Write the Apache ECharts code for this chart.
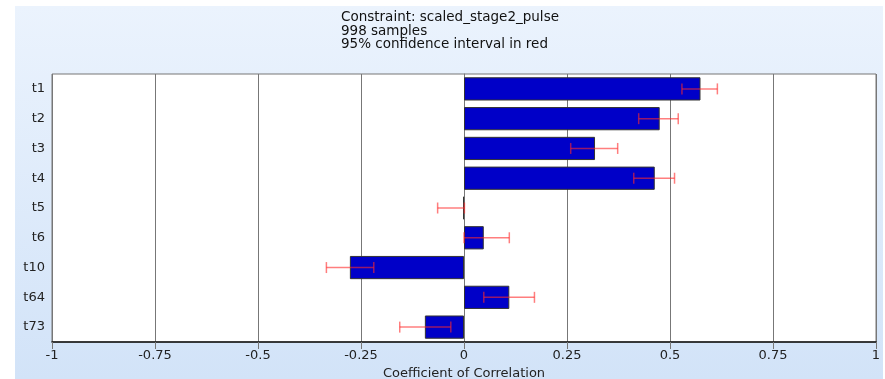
<!DOCTYPE html>
<html>
<head>
<meta charset="utf-8">
<script src="https://cdn.jsdelivr.net/npm/echarts@6/dist/echarts.min.js"></script>
<style>
html,body{margin:0;padding:0;background:#fff;}
#chart{width:885px;height:379px;}
</style>
</head>
<body>
<div id="chart"></div>
<script>
var categories = ['t1', 't2', 't3', 't4', 't5', 't6', 't10', 't64', 't73'];
var coefficients = [0.574, 0.475, 0.318, 0.463, -0.002, 0.048, -0.277, 0.110, -0.095];
var ciLow = [0.529, 0.424, 0.259, 0.412, -0.064, 0.000, -0.334, 0.048, -0.156];
var ciHigh = [0.615, 0.520, 0.373, 0.511, 0.001, 0.110, -0.219, 0.171, -0.032];
var titleLines = ['Constraint: scaled_stage2_pulse', '998 samples', '95% confidence interval in red'];
var xAxisName = 'Coefficient of Correlation';

var errData = categories.map(function (c, i) { return [i, ciLow[i], ciHigh[i]]; });

var chart = echarts.init(document.getElementById('chart'), null, { renderer: 'canvas' });
var font = 'DejaVu Sans';
chart.setOption({
  backgroundColor: '#ffffff',
  animation: false,
  textStyle: { fontFamily: font },
  graphic: [{
    type: 'rect', z: -10, silent: true,
    shape: { x: 15, y: 6, width: 868, height: 373 },
    style: {
      fill: new echarts.graphic.LinearGradient(0, 0, 0, 1, [
        { offset: 0, color: '#ebf3fd' },
        { offset: 1, color: '#d2e3f8' }
      ])
    }
  }],
  title: {
    text: titleLines.join('\n'),
    left: 341, top: 11, padding: 0,
    textStyle: { fontFamily: font, fontSize: 13.5, fontWeight: 'normal', color: '#111', lineHeight: 13.5 }
  },
  grid: {
    left: 52, right: 9, top: 74, bottom: 37,
    containLabel: false, outerBoundsMode: 'none',
    show: true, backgroundColor: '#ffffff', borderColor: '#777', borderWidth: 1
  },
  xAxis: {
    type: 'value', min: -1, max: 1, interval: 0.25,
    name: xAxisName, nameLocation: 'middle', nameGap: 24,
    nameTextStyle: { fontFamily: font, fontSize: 13, color: '#222' },
    axisLine: { show: true, lineStyle: { color: '#111', width: 1.5 } },
    axisTick: { show: true, length: 7, lineStyle: { color: '#777' } },
    axisLabel: { fontFamily: font, fontSize: 13, color: '#222', margin: 7 },
    splitLine: { show: true, lineStyle: { color: '#777', width: 1 } }
  },
  yAxis: {
    type: 'category', data: categories, inverse: true,
    axisLine: { show: true, lineStyle: { color: '#777' } },
    axisTick: { show: false },
    axisLabel: { fontFamily: font, fontSize: 13, color: '#222', margin: 7 },
    splitLine: { show: false }
  },
  series: [{
    type: 'bar', data: coefficients, barWidth: '78%', z: 2,
    itemStyle: { color: '#0000c8', borderColor: '#333', borderWidth: 1 }
  }, {
    type: 'custom', z: 5, data: errData,
    encode: { y: 0, x: [1, 2] },
    renderItem: function (params, api) {
      var idx = api.value(0);
      var p1 = api.coord([api.value(1), idx]);
      var p2 = api.coord([api.value(2), idx]);
      var h = 5.5;
      var st = { stroke: 'rgba(255,40,40,0.6)', lineWidth: 1.5 };
      return {
        type: 'group',
        children: [
          { type: 'line', shape: { x1: p1[0], y1: p1[1], x2: p2[0], y2: p2[1] }, style: st },
          { type: 'line', shape: { x1: p1[0], y1: p1[1] - h, x2: p1[0], y2: p1[1] + h }, style: st },
          { type: 'line', shape: { x1: p2[0], y1: p2[1] - h, x2: p2[0], y2: p2[1] + h }, style: st }
        ]
      };
    }
  }]
});
</script>
</body>
</html>
